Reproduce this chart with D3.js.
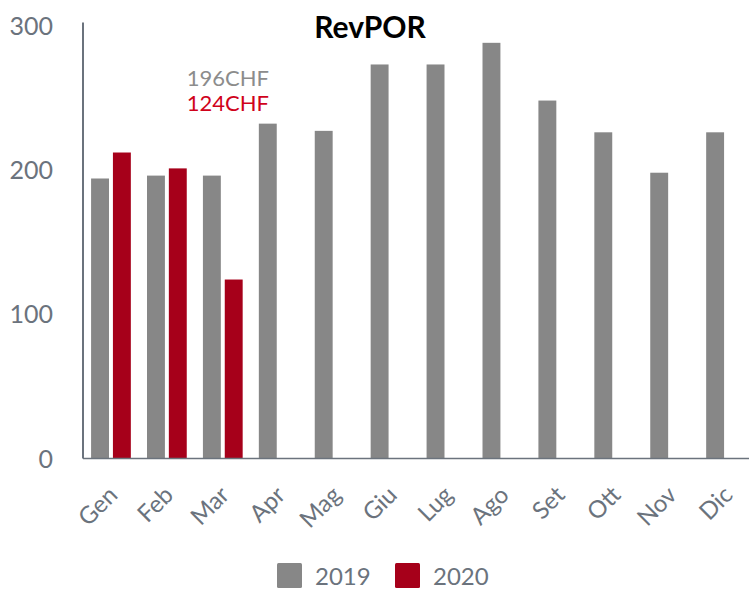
<!DOCTYPE html>
<html><head><meta charset="utf-8">
<script src="https://cdn.jsdelivr.net/npm/d3@7"></script>
<style>html,body{margin:0;padding:0;background:#fff;}svg{display:block;font-family:Lato,sans-serif;}</style>
</head><body>
<svg id="c" width="749" height="589"></svg>
<script>
const months = ["Gen","Feb","Mar","Apr","Mag","Giu","Lug","Ago","Set","Ott","Nov","Dic"];
const series = ["2019","2020"];
const values2019 = [194,196,196,232,227,273,273,288,248,226,198,226];
const values2020 = [212,201,124,null,null,null,null,null,null,null,null,null];
const yTicks = [0,100,200,300];
const annotations = [{text:"196CHF", series:"2019"},{text:"124CHF", series:"2020"}];

const colors = {"2019":"#878787","2020":"#a6001a"};
const annColors = {"2019":"#8c8c8c","2020":"#d0021b"};
const axisColor = "#6b737d";

const svg = d3.select("#c");
const mLeft = 83, mRight = 754, mTop = 25.5, mBottom = 458.5;

const x0 = d3.scaleBand().domain(months).range([mLeft, mRight]).paddingInner(0).paddingOuter(0);
const x1 = d3.scaleBand().domain(series).range([0, x0.step()]).paddingInner(0.18).paddingOuter(0.37);
const y = d3.scaleLinear().domain([0,300]).range([mBottom, mTop]);

const data = [];
months.forEach((m,i)=>{
  data.push({m, s:"2019", v:values2019[i]});
  if (values2020[i] != null) data.push({m, s:"2020", v:values2020[i]});
});

svg.append("g").selectAll("rect").data(data).join("rect")
  .attr("x", d=>x0(d.m)+x1(d.s))
  .attr("y", d=>y(d.v))
  .attr("width", x1.bandwidth())
  .attr("height", d=>y(0)-y(d.v))
  .attr("fill", d=>colors[d.s]);

// y axis
const yAxis = svg.append("g").attr("transform",`translate(${mLeft},0)`)
  .call(d3.axisLeft(y).tickValues(yTicks).tickSize(0).tickPadding(14));
yAxis.select(".domain").attr("stroke",axisColor).attr("stroke-width",2).attr("d",`M0,${mTop-3}V${mBottom}`);
yAxis.selectAll("text").attr("fill",axisColor).attr("font-size","25px").attr("font-family","Lato").attr("dy","0.35em").attr("text-anchor","end").attr("x",-30);

// x axis
const xAxis = svg.append("g").attr("transform",`translate(0,${mBottom})`)
  .call(d3.axisBottom(x0).tickSize(0).tickPadding(0));
xAxis.select(".domain").attr("stroke",axisColor).attr("stroke-width",1.5).attr("d",`M${mLeft},0H749`);
xAxis.selectAll(".tick text")
  .attr("fill",axisColor).attr("font-size","24px").attr("font-family","Lato")
  .attr("text-anchor","end").attr("dy","0").attr("y",0)
  .attr("transform","translate(8,38) rotate(-45)");

// title
svg.append("text").attr("x",370).attr("y",38).attr("text-anchor","middle")
  .attr("font-size","30px").attr("font-weight","bold").attr("fill","#000").text("RevPOR");

// annotations (one text block, two lines)
const ann = svg.append("text").attr("text-anchor","end").attr("font-size","22px");
annotations.forEach((a,i)=>{
  ann.append("tspan").attr("x",269).attr("y",86+i*25).attr("fill",annColors[a.series]).text(a.text);
});

// legend
const lg = svg.append("g");
const legendX = [277, 395];
series.forEach((s,i)=>{
  lg.append("rect").attr("x",legendX[i]).attr("y",563).attr("width",25).attr("height",25).attr("rx",1.5).attr("fill",colors[s]);
  lg.append("text").attr("x",legendX[i]+38).attr("y",585).attr("font-size","24px").attr("fill",axisColor).text(s);
});
</script>
</body></html>
